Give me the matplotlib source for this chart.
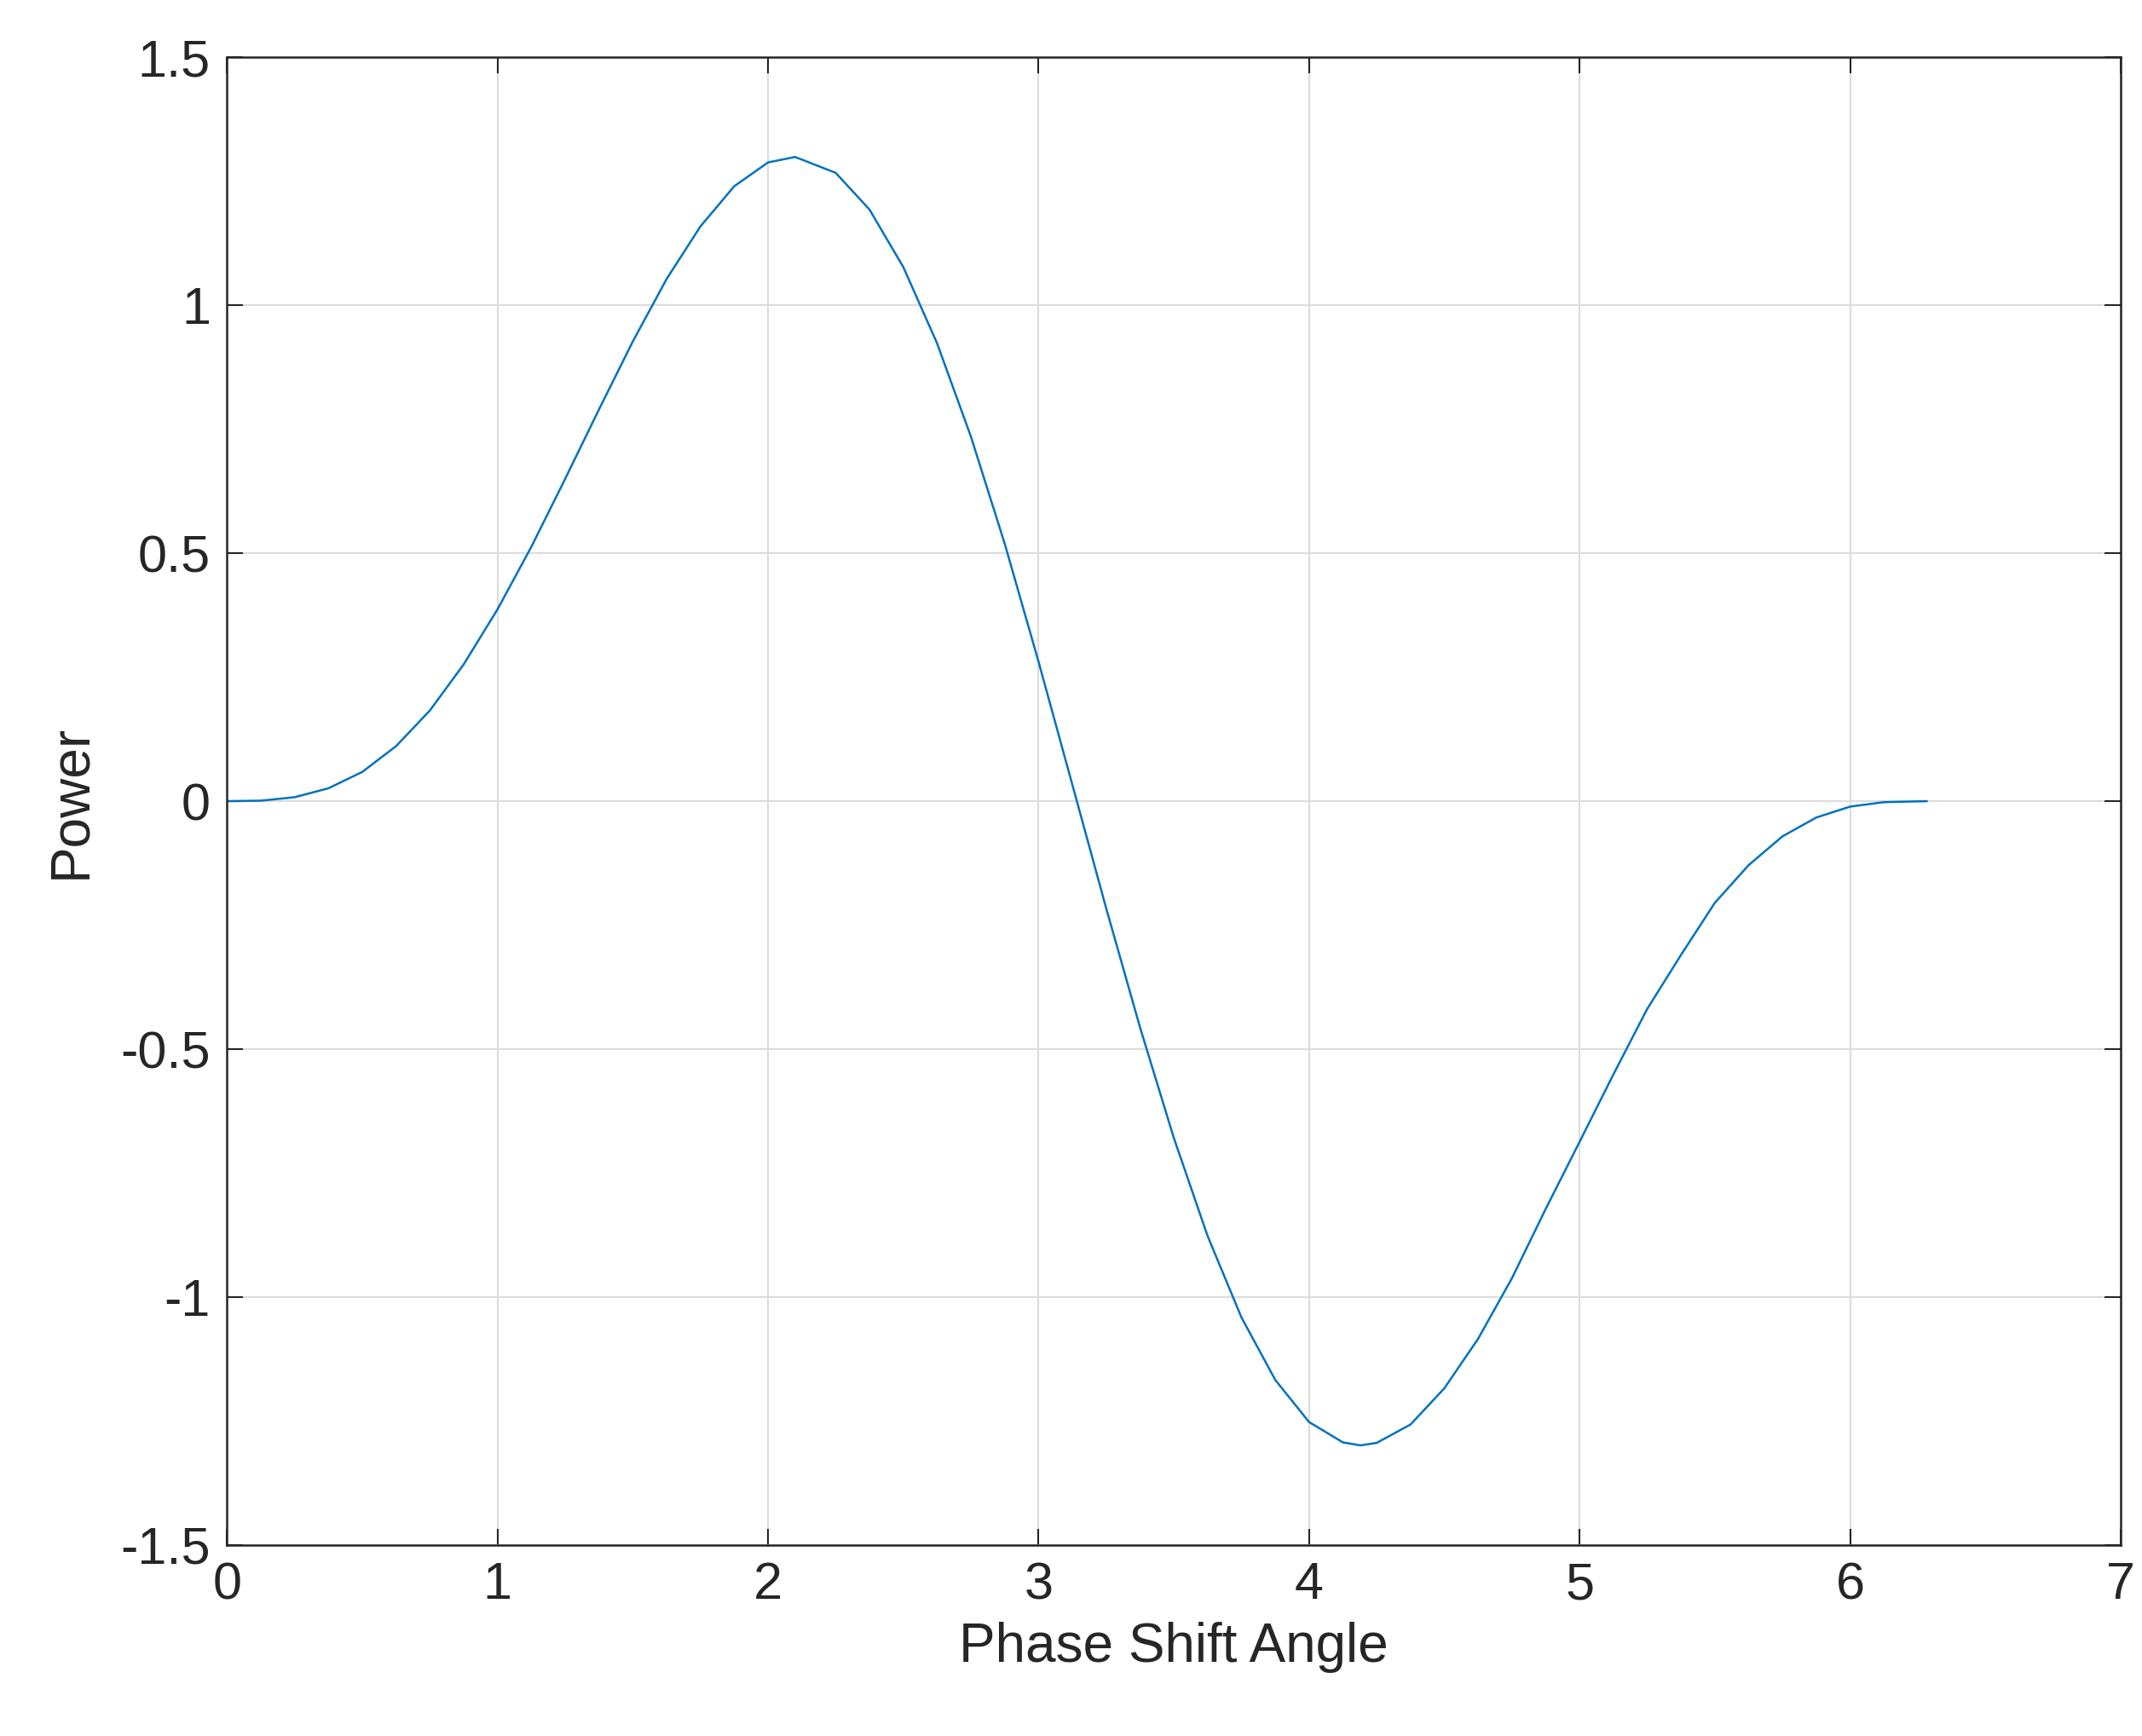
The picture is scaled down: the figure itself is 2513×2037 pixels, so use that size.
import matplotlib
matplotlib.use("Agg")
import matplotlib.pyplot as plt

angle = [0, 0.125, 0.25, 0.375, 0.5, 0.625, 0.75, 0.875, 1.0, 1.125, 1.25, 1.375, 1.5,
         1.625, 1.75, 1.875, 2.0, 2.1, 2.25, 2.375, 2.5, 2.625, 2.75, 2.875, 3.0, 3.125,
         3.25, 3.375, 3.5, 3.625, 3.75, 3.875, 4.0, 4.125, 4.19, 4.25, 4.375, 4.5, 4.625,
         4.75, 4.875, 5.0, 5.125, 5.25, 5.375, 5.5, 5.625, 5.75, 5.875, 6.0, 6.125, 6.283]
power = [0, 0.001, 0.008, 0.026, 0.059, 0.111, 0.183, 0.276, 0.387, 0.513, 0.650, 0.790,
         0.927, 1.053, 1.159, 1.240, 1.288, 1.299, 1.267, 1.193, 1.077, 0.923, 0.735,
         0.519, 0.281, 0.033, -0.216, -0.456, -0.679, -0.877, -1.041, -1.167, -1.252,
         -1.293, -1.299, -1.294, -1.257, -1.184, -1.084, -0.962, -0.822, -0.687, -0.551,
         -0.419, -0.310, -0.205, -0.129, -0.071, -0.033, -0.011, -0.002, 0]
xticks = [0, 1, 2, 3, 4, 5, 6, 7]
yticks = [-1.5, -1, -0.5, 0, 0.5, 1, 1.5]
yticklabels = ["-1.5", "-1", "-0.5", "0", "0.5", "1", "1.5"]

plt.rcParams['font.family'] = ['Liberation Sans', 'DejaVu Sans']
fig = plt.figure(figsize=(25.13, 20.37), dpi=100)
ax = fig.add_axes([0.106, 0.110, 0.884, 0.857])
ax.plot(angle, power, color='#0072BD', lw=1.8)
ax.set_xlim(0, 7)
ax.set_ylim(-1.5, 1.5)
ax.set_xticks(xticks)
ax.set_yticks(yticks)
ax.set_yticklabels(yticklabels)
ax.grid(True, color='#dcdcdc', lw=1.5)
ax.tick_params(direction='in', length=14, width=1.5, labelsize=44, pad=14,
               top=True, right=True, colors='#262626')
for s in ax.spines.values():
    s.set_linewidth(1.8)
    s.set_color('#262626')
ax.set_xlabel('Phase Shift Angle', fontsize=46, color='#262626', labelpad=10)
ax.set_ylabel('Power', fontsize=46, color='#262626', labelpad=20)
fig.savefig('out.png', dpi=100)
